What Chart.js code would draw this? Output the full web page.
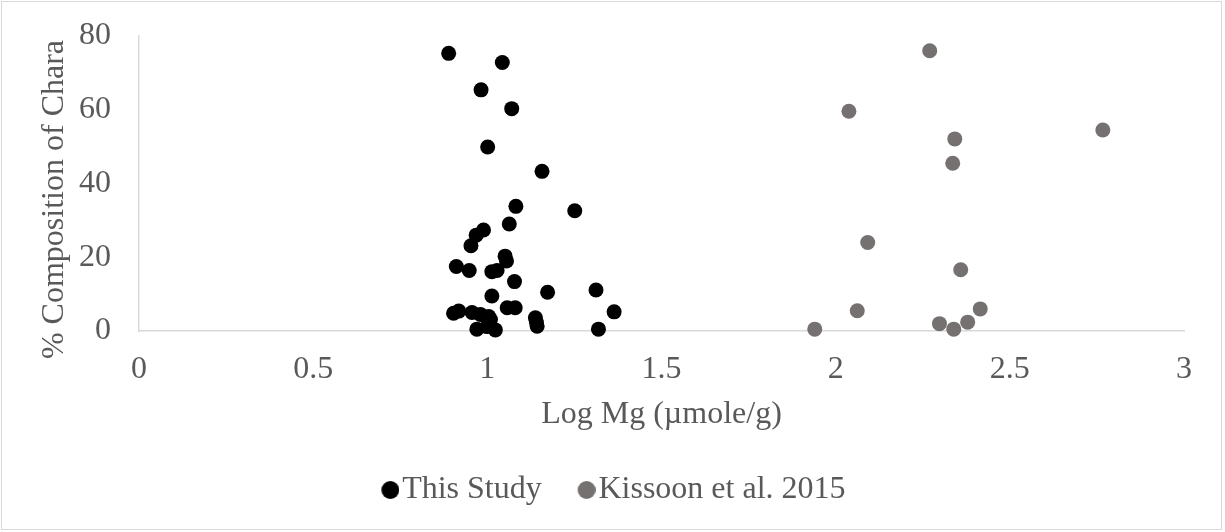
<!DOCTYPE html>
<html>
<head>
<meta charset="utf-8">
<script src="https://cdn.jsdelivr.net/npm/chart.js@4/dist/chart.umd.min.js"></script>
<style>
  html, body { margin: 0; padding: 0; background: #ffffff; }
  #wrap { position: relative; width: 1225px; height: 532px; }
  #frame { position: absolute; left: 1px; top: 1px; width: 1219px; height: 527px; border: 1px solid #d9d9d9; pointer-events: none; }
  canvas { position: absolute; left: 0; top: 0; }
</style>
</head>
<body>
<div id="wrap">
  <canvas id="c" width="1225" height="532"></canvas>
  <div id="frame"></div>
</div>
<script>
// ---- data ----
const thisStudyX = [0.889, 1.043, 0.982, 1.070, 1.001, 1.157, 1.082, 1.251, 1.063, 0.989,
  0.968, 0.953, 1.051, 1.055, 0.911, 0.948, 1.013, 1.028, 1.078, 1.013,
  1.173, 1.312, 1.364, 1.057, 1.080, 0.903, 0.918, 0.956, 0.980, 1.004,
  1.009, 0.970, 0.999, 1.023, 1.138, 1.141, 1.143, 1.319];
const thisStudyY = [75.3, 72.8, 65.4, 60.3, 49.9, 43.3, 33.8, 32.6, 29.0, 27.4,
  26.0, 23.1, 20.3, 19.0, 17.5, 16.4, 16.1, 16.4, 13.4, 9.5,
  10.5, 11.1, 5.2, 6.3, 6.3, 4.8, 5.4, 5.0, 4.5, 3.9,
  3.1, 0.5, 1.2, 0.3, 3.6, 2.3, 1.3, 0.5];

const kissoonX = [2.270, 2.038, 2.342, 2.336, 2.767, 2.092, 2.359, 2.062, 2.415, 1.940, 2.298, 2.339, 2.379];
const kissoonY = [76.0, 59.6, 52.1, 45.5, 54.5, 24.0, 16.6, 5.5, 6.0, 0.5, 2.0, 0.5, 2.4];

const seriesNames = ['This Study', 'Kissoon et al. 2015'];
const seriesColors = ['#000000', '#767171'];
const xTicks = [0, 0.5, 1, 1.5, 2, 2.5, 3];
const xTickLabels = ['0', '0.5', '1', '1.5', '2', '2.5', '3'];
const yTicks = [0, 20, 40, 60, 80];
const yTickLabels = ['0', '20', '40', '60', '80'];
const xTitle = 'Log Mg (\u00b5mole/g)';
const yTitle = '% Composition of Chara';

const toPoints = (xs, ys) => xs.map((x, i) => ({ x: x, y: ys[i] }));

const FONT = 'Liberation Serif, "Times New Roman", serif';
const FS = 32;
const TEXT = '#595959';
const AXIS = '#d9d9d9';

// legend marker: a circle sitting at the right end of a wider transparent image,
// so it stays close to its label text
function legendMarker(color) {
  const cv = document.createElement('canvas');
  cv.width = 39; cv.height = 18;
  const g = cv.getContext('2d');
  g.fillStyle = color;
  g.beginPath();
  g.arc(30, 9, 9, 0, Math.PI * 2);
  g.fill();
  return cv;
}

new Chart(document.getElementById('c'), {
  type: 'scatter',
  data: {
    datasets: seriesNames.map((name, k) => ({
      label: name,
      data: k === 0 ? toPoints(thisStudyX, thisStudyY) : toPoints(kissoonX, kissoonY),
      backgroundColor: seriesColors[k],
      borderColor: seriesColors[k],
      borderWidth: 0,
      pointRadius: 7.5,
      pointHoverRadius: 7.5,
      clip: false
    }))
  },
  options: {
    responsive: false,
    animation: false,
    events: [],
    layout: { padding: { top: 36, right: 41, left: 35, bottom: 16 } },
    plugins: {
      tooltip: { enabled: false },
      legend: {
        position: 'bottom',
        labels: {
          usePointStyle: true,
          boxWidth: 12.7,
          boxHeight: 12.7,
          padding: 28,
          color: TEXT,
          font: { family: FONT, size: FS },
          generateLabels: (chart) => {
            const items = Chart.defaults.plugins.legend.labels.generateLabels(chart);
            items.forEach((it, i) => { it.pointStyle = legendMarker(seriesColors[i]); });
            return items;
          }
        }
      }
    },
    scales: {
      x: {
        type: 'linear',
        min: xTicks[0],
        max: xTicks[xTicks.length - 1],
        afterBuildTicks: (s) => { s.ticks = xTicks.map(v => ({ value: v })); },
        afterFit: (s) => { s.height = 115; },
        grid: { display: false, drawTicks: true, tickLength: 19 },
        border: { display: true, color: AXIS, width: 1.5 },
        ticks: {
          color: TEXT, font: { family: FONT, size: FS }, padding: 0, maxRotation: 0,
          callback: (v, i) => xTickLabels[i]
        },
        title: { display: true, text: xTitle, color: TEXT, font: { family: FONT, size: FS }, padding: { top: 0, bottom: 12 } }
      },
      y: {
        type: 'linear',
        min: yTicks[0],
        max: yTicks[yTicks.length - 1],
        afterBuildTicks: (s) => { s.ticks = yTicks.map(v => ({ value: v })); },
        afterFit: (s) => { s.width = 104; },
        grid: { display: false, drawTicks: true, tickLength: 28 },
        border: { display: true, color: AXIS, width: 1.5 },
        ticks: {
          color: TEXT, font: { family: FONT, size: FS }, padding: 0,
          callback: (v, i) => yTickLabels[i]
        },
        title: { display: true, text: yTitle + '\u00a0\u00a0\u00a0\u00a0', color: TEXT, font: { family: FONT, size: FS }, padding: { top: 0, bottom: 0 } }
      }
    }
  }
});
</script>
</body>
</html>
